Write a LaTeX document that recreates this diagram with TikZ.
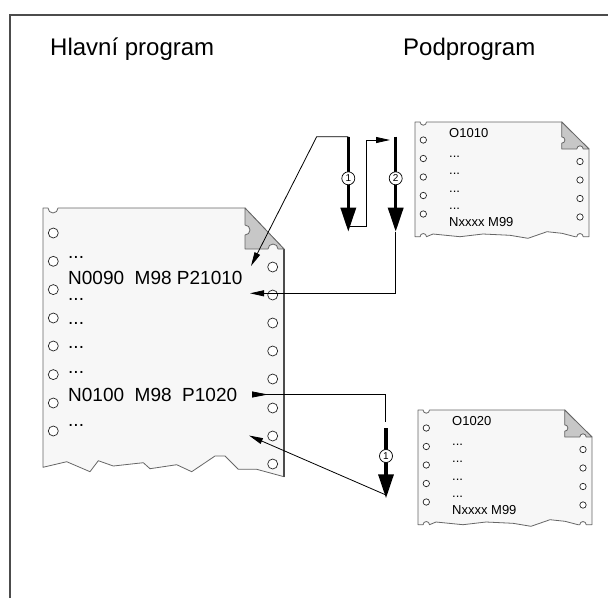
\documentclass[tikz,border=0pt]{standalone}
\usepackage{fontspec}
\setmainfont{Liberation Sans}
\usetikzlibrary{arrows.meta}

% one small subprogram sheet: #1,#2 = top-left corner, #3 = program number, #4 = name prefix
\newcommand\subsheet[4]{%
\begin{scope}[shift={(#1,#2)}]
  \draw[paper] (0,0) -- (5.1,0) arc[start angle=180,end angle=360,radius=3.2pt]
    -- (146.7,0) -- (174,27) -- (174,114.7) -- (168.2,114.7)
    arc[start angle=0,end angle=180,radius=3.2pt]
    -- (160,114.7) -- (147,111.3) -- (132,109.7) -- (113,116.3) -- (95,113.3)
    -- (68,112) -- (45,114.7) -- (18,112) -- (11.5,114.7)
    arc[start angle=0,end angle=180,radius=3.2pt] -- (0,114.7) -- cycle;
  \draw[fold] (146.7,0) -- (174,27) -- (168.2,27)
    arc[start angle=0,end angle=180,radius=3.2pt] -- (146.7,27) -- (146.7,21.2)
    arc[start angle=270,end angle=450,radius=3.2pt] -- cycle;
  \foreach \y in {18,36.5,55,73.5,92} \draw[hole] (8.3,\y) circle[radius=3.2pt];
  \foreach \y in {39.5,58,76.5,95} \draw[hole] (165,\y) circle[radius=3.2pt];
  \node[small, anchor=west] (#4head) at (34,11) {#3};
  \node[small, anchor=base west] (#4d1) at (34,35) {...};
  \node[small, anchor=base west] (#4d2) at (34,52) {...};
  \node[small, anchor=base west] (#4d3) at (34,70) {...};
  \node[small, anchor=base west] (#4d4) at (34,87) {...};
  \node[small, anchor=base west] (#4end) at (34,104) {Nxxxx M99};
\end{scope}}

\begin{document}
\begin{tikzpicture}[x=1pt,y=-1pt,
  paper/.style={draw=black!60, fill=black!3, line width=0.8pt, line join=round},
  fold/.style={draw=black!60, fill=black!22, line width=0.8pt, line join=round},
  hole/.style={draw=black!85, fill=white, line width=0.7pt},
  frame/.style={draw=black!70, line width=2pt},
  title/.style={inner sep=0pt, font=\fontsize{24}{28}\selectfont},
  code/.style={inner sep=0pt, font=\fontsize{19}{22}\selectfont},
  small/.style={inner sep=0pt, font=\fontsize{13}{15}\selectfont},
  link/.style={draw=black, line width=0.8pt},
  linktip/.style={-{Triangle[length=14pt,width=6pt]}},
  bigarrow/.style={draw=black, line width=3.3pt, -{Triangle[length=24pt,width=15pt]}},
  circnum/.style={circle, draw=black, line width=0.7pt, fill=white, inner sep=0pt,
    minimum size=13pt, font=\fontsize{10}{11}\selectfont},
]
\useasboundingbox (0,0) rectangle (608,598);

% outer frame, open at right and bottom
\draw[frame] (9.5,598) -- (9.5,15) -- (608,15);

% headings
\node[title, anchor=base west] (hmain) at (50,55) {Hlavní program};
\node[title, anchor=base west] (hsub) at (403,55) {Podprogram};

% main program sheet
\draw[paper] (43,208) -- (48,208) arc[start angle=180,end angle=360,radius=5pt]
  -- (245,208) -- (284,249) -- (284,476.7) -- (256.7,469.3) -- (238.3,469.3)
  -- (225,456) -- (215,456) -- (191.7,471.7) -- (176.7,464.7) -- (150,468.7)
  -- (143.3,462.7) -- (113.3,466) -- (98.3,460.7) -- (90,471.7) -- (66.7,461.7)
  -- (43,467.3) -- cycle;
\draw[draw=black!70, line width=1.6pt] (284,249) -- (284,476.7);
\draw[fold] (245,208) -- (284,249) -- (278,249)
  arc[start angle=0,end angle=180,radius=5pt] -- (245,249) -- (245,235)
  arc[start angle=270,end angle=450,radius=5pt] -- cycle;
\foreach \y in {233,261.3,289.6,318,346,374.6,403,431}
  \draw[hole] (53.3,\y) circle[radius=5pt];
\foreach \y in {267,295,323,351,379,408,436,464}
  \draw[hole] (272.7,\y) circle[radius=5pt];

\node[code, anchor=base west] (m1) at (68,258) {...};
\node[code, anchor=base west] (n90) at (68,284) {N0090\ \ M98 P21010};
\node[code, anchor=base west] (m2) at (68,300) {...};
\node[code, anchor=base west] (m3) at (68,324) {...};
\node[code, anchor=base west] (m4) at (68,348) {...};
\node[code, anchor=base west] (m5) at (68,373) {...};
\node[code, anchor=base west] (n100) at (68,401) {N0100\ \ M98\ \ P1020};
\node[code, anchor=base west] (m6) at (68,426) {...};

% subprogram sheets
\subsheet{415}{122}{O1010}{sa}
\subsheet{418}{410}{O1020}{sb}

% points used by the connectors
\coordinate (a1top) at (348.3,136.7);
\coordinate (a1tip) at (348.3,231.7);
\coordinate (a2top) at (395.7,136.7);
\coordinate (a2tip) at (395.7,231.7);
\coordinate (b1top) at (386,428.3);
\coordinate (b1tip) at (386,498.3);
\coordinate (callA) at (316.7,136.7);
\coordinate (inA) at (251,266);
\coordinate (outA) at (348.3,226.7);
\coordinate (rA1) at (366.7,226.7);
\coordinate (rA2) at (366.7,140);
\coordinate (inA2) at (390,140);
\coordinate (backA) at (395.7,293.3);
\coordinate (retA) at (250,293.3);
\coordinate (callB) at (252,394.5);
\coordinate (callB1) at (385,394.5);
\coordinate (callB2) at (385,421.7);
\coordinate (fromB) at (386,495);
\coordinate (retB) at (249,435.5);

% flow of the first call (two nested passes)
\draw[link, linktip] (a1top) -- (callA) -- (inA);
\draw[link, linktip] (outA) -- (rA1) -- (rA2) -- (inA2);
\draw[link, linktip] (a2tip) -- (backA) -- (retA);
\draw[bigarrow] (a1top) -- (a1tip);
\draw[bigarrow] (a2top) -- (a2tip);
\node[circnum] (c1) at (348.3,178.3) {1};
\node[circnum] (c2) at (395.7,178.3) {2};

% flow of the second call
\draw[link, {Triangle[reversed,length=16pt,width=6pt]}-] (callB) -- (callB1) -- (callB2);
\draw[link, linktip] (fromB) -- (retB);
\draw[bigarrow] (b1top) -- (b1tip);
\node[circnum] (c3) at (386,456) {1};
\end{tikzpicture}
\end{document}
